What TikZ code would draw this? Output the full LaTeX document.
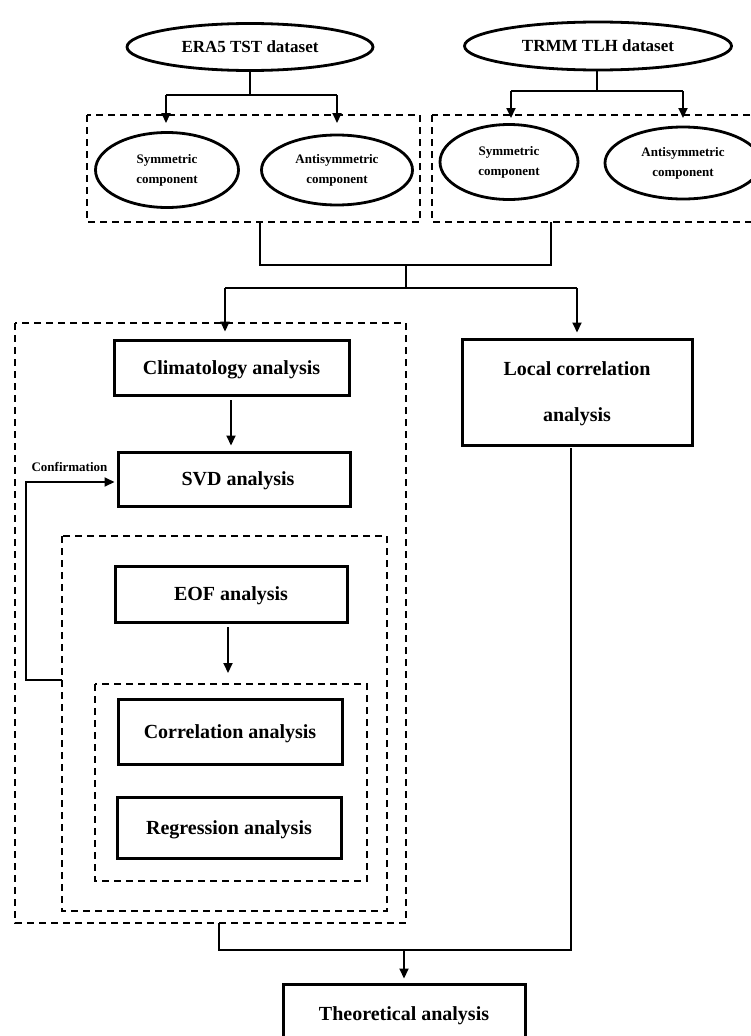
\documentclass[tikz,border=0pt]{standalone}
\usepackage{fontspec}
\setmainfont{Liberation Serif}
\usetikzlibrary{shapes.geometric,arrows.meta}
\begin{document}
\begin{tikzpicture}[x=1pt,y=-1pt,
  every node/.style={font=\bfseries, inner sep=0pt, align=center},
  oval/.style={ellipse, draw, line width=2.8pt},
  sbox/.style={rectangle, draw, line width=3pt, text depth=0pt},
  dbox/.style={draw, dashed, line width=1.5pt, dash pattern=on 7pt off 5pt},
  conn/.style={line width=2pt},
  arr/.style={line width=2pt, -{Triangle[length=10pt,width=9pt]}},
  big/.style={font=\bfseries\fontsize{17}{20}\selectfont},
  mid/.style={font=\bfseries\fontsize{20}{24}\selectfont},
  small/.style={font=\bfseries\fontsize{13}{20}\selectfont}
]
\useasboundingbox (0,0) rectangle (751,1036);
\clip (0,0) rectangle (751,1036);

% datasets
\node[oval, big, minimum width=246pt, minimum height=47pt] (era) at (250,47) {ERA5 TST dataset};
\node[oval, big, minimum width=267pt, minimum height=48pt] (trmm) at (598,46) {TRMM TLH dataset};

% dashed groups of components
\draw[dbox] (87,115) rectangle (420,222);
\draw[dbox] (432,115) rectangle (754,222);
\coordinate (g1b) at (260,222);
\coordinate (g2b) at (551,222);

\node[oval, small, minimum width=143pt, minimum height=75pt] (s1) at (167,170) {Symmetric\\component};
\node[oval, small, minimum width=151pt, minimum height=70pt] (a1) at (337,170) {Antisymmetric\\component};
\node[oval, small, minimum width=138pt, minimum height=75pt] (s2) at (509,162) {Symmetric\\component};
\node[oval, small, minimum width=156pt, minimum height=72pt] (a2) at (683,163) {Antisymmetric\\component};

% dataset splits
\coordinate (j1) at (250,95);
\coordinate (j2) at (597,91);
\draw[conn] (era.south) -- (j1);
\draw[arr] (166,95) -- (166,123);
\draw[conn] (166,95) -- (337,95);
\draw[arr] (337,95) -- (337,123);
\draw[conn] (j2 |- trmm.south) -- (j2);
\draw[conn] (511,91) -- (683,91);
\draw[arr] (511,91) -- (511,118);
\draw[arr] (683,91) -- (683,118);

% merge
\coordinate (m1) at (406,265);
\coordinate (m2) at (406,288);
\draw[conn] (g1b) -- (260,265) -- (551,265) -- (g2b);
\draw[conn] (m1) -- (m2);
\draw[conn] (225,288) -- (577,288);

% nested dashed groups
\draw[dbox] (15,323) rectangle (406,923);
\draw[dbox] (62,536) rectangle (387,911);
\draw[dbox] (95,684) rectangle (367,881);

\node[sbox, mid, minimum width=235pt, minimum height=55pt] (clim) at (231.5,367.5) {Climatology analysis};
\node[sbox, mid, minimum width=232pt, minimum height=54pt] (svd) at (234,479) {\hspace*{8pt}SVD analysis};
\node[sbox, mid, minimum width=232pt, minimum height=56pt] (eof) at (231,594) {EOF analysis};
\node[sbox, mid, minimum width=224pt, minimum height=65pt] (corr) at (230,731.5) {Correlation analysis};
\node[sbox, mid, minimum width=224pt, minimum height=61pt] (reg) at (229,827.5) {Regression analysis};
\node[sbox, mid, minimum width=230pt, minimum height=106pt] (loc) at (577,392) {Local correlation\\[22pt]analysis};
\node[sbox, mid, minimum width=242pt, minimum height=60pt] (theo) at (404,1014) {Theoretical analysis};

\draw[arr] (225,288) -- ([yshift=7pt]clim.north -| 225,0);
\draw[arr] (577,288) -- ([yshift=5pt]loc.north);
\draw[arr] (231,400) -- ([yshift=5pt]svd.north -| 231,0);
\draw[arr] (228,627) -- (228,673);

% confirmation loop
\node[small] (conf) at (69.5,467) {Confirmation};
\coordinate (c0) at (62,680);
\draw[arr] (c0) -- (26,680) -- (26,482) -- ([xshift=-2pt,yshift=-3pt]svd.west);

% to theoretical analysis
\coordinate (ob) at (219,923);
\coordinate (jb) at (404,950);
\draw[conn] (571,448) -- (571,950) -- (219,950) -- (ob);
\draw[arr] (jb) -- ([yshift=4pt]theo.north);
\end{tikzpicture}
\end{document}
